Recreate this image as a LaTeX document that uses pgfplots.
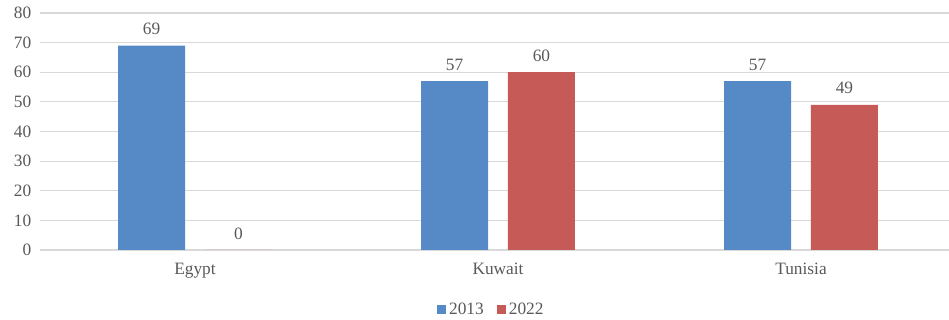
\documentclass[border=0pt]{standalone}
\usepackage{pgfplots}
\pgfplotsset{compat=1.18}
\usepackage{fontspec}
\setmainfont{Liberation Serif}
\definecolor{cblue}{RGB}{86,138,198}
\definecolor{cred}{RGB}{197,90,87}
\definecolor{ctext}{RGB}{89,89,89}
\definecolor{cgrid}{RGB}{217,217,217}
\begin{document}
\begin{tikzpicture}[x=0.75pt,y=0.75pt]
\path[use as bounding box] (-40,-70) rectangle (909,250);
\begin{axis}[
  at={(0,0)}, anchor=south west,
  scale only axis,
  width=681.75pt, height=177.75pt,
  xmin=-0.5116, xmax=2.4884,
  ymin=0, ymax=80,
  ytick={0,10,...,80},
  xtick={0,1,2},
  xticklabels={Egypt,Kuwait,Tunisia},
  ybar, bar width=50.25pt,
  axis line style={draw=none},
  ymajorgrids, grid style={cgrid, line width=0.9pt},
  major tick length=0pt,
  tick label style={font=\fontsize{13}{15}\selectfont, text=ctext},
  ytick style={draw=none},
  xtick style={draw=none},
  yticklabel style={xshift=-3pt},
  xticklabel style={yshift=-6.5pt},
  /pgf/number format/assume math mode=true,
  nodes near coords,
  nodes near coords style={font=\fontsize{13}{15}\selectfont, text=ctext, yshift=4.5pt},
  legend style={at={(0.497,-0.253)}, anchor=center, draw=none, legend columns=-1,
     font=\fontsize{13}{15}\selectfont, text=ctext,
     /tikz/every even column/.append style={column sep=8pt}},
  legend image code/.code={\fill[#1] (0pt,-3.4pt) rectangle (6.8pt,3.4pt);},
  clip=false,
]
\addplot[fill=cblue, draw=none, bar shift=-32.6pt] coordinates {(0,69) (1,57) (2,57)};
\addplot[fill=cred, draw=none, bar shift=32.6pt] coordinates {(0,0) (1,60) (2,49)};
\legend{2013,2022}
\end{axis}
\end{tikzpicture}
\end{document}
